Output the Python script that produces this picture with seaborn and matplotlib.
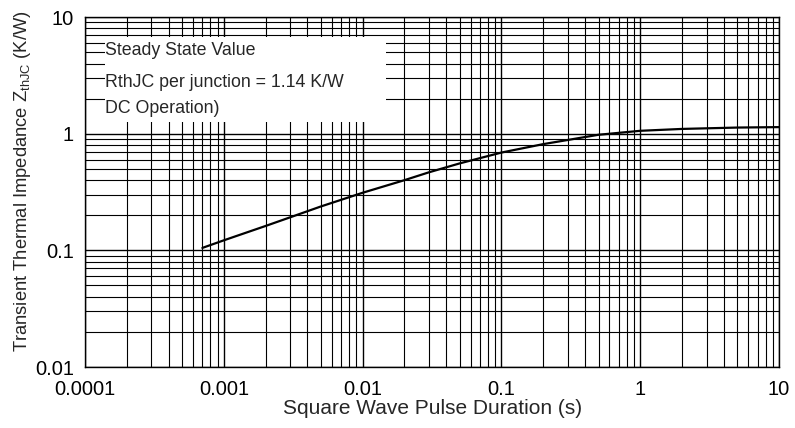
import matplotlib
matplotlib.use("Agg")
import matplotlib.pyplot as plt
from matplotlib.patches import Rectangle
from matplotlib.ticker import FixedLocator, FuncFormatter, LogLocator, NullFormatter
import numpy as np
import pandas as pd
import seaborn as sns

# data
pulse_s = [0.0007, 0.001, 0.002, 0.003, 0.005, 0.01, 0.02, 0.03, 0.05,
           0.1, 0.2, 0.5, 1, 2, 5, 10]
zth = [0.105, 0.122, 0.162, 0.192, 0.238, 0.312, 0.40, 0.467, 0.557,
       0.69, 0.815, 0.98, 1.06, 1.10, 1.13, 1.14]

x_ticks = [0.0001, 0.001, 0.01, 0.1, 1, 10]
y_ticks = [0.01, 0.1, 1, 10]
note_lines = ["Steady State Value", "RthJC per junction = 1.14 K/W", "DC Operation)"]

sns.set_style("white")
plt.rcParams["font.family"] = ["Liberation Sans", "DejaVu Sans"]
plt.rcParams["mathtext.fontset"] = "custom"
plt.rcParams["mathtext.rm"] = "Liberation Sans"
plt.rcParams["mathtext.it"] = "Liberation Sans"

df = pd.DataFrame({"t": pulse_s, "z": zth})

fig = plt.figure(figsize=(7.95, 4.28), dpi=100)
ax = fig.add_axes([0.107, 0.1425, 0.873, 0.8175])

sns.lineplot(data=df, x="t", y="z", color="black", linewidth=1.6, ax=ax, zorder=3)

ax.set_xscale("log")
ax.set_yscale("log")
ax.set_xlim(1e-4, 10)
ax.set_ylim(0.01, 10)

ax.xaxis.set_major_locator(FixedLocator(x_ticks))
ax.yaxis.set_major_locator(FixedLocator(y_ticks))
ax.xaxis.set_minor_locator(LogLocator(base=10, subs=np.arange(2, 10)))
ax.yaxis.set_minor_locator(LogLocator(base=10, subs=np.arange(2, 10)))
fmt = FuncFormatter(lambda v, p: f"{v:g}")
ax.xaxis.set_major_formatter(fmt)
ax.yaxis.set_major_formatter(fmt)
ax.xaxis.set_minor_formatter(NullFormatter())
ax.yaxis.set_minor_formatter(NullFormatter())

ax.set_axisbelow(True)
ax.grid(which="major", color="black", linewidth=1.0)
ax.grid(which="minor", color="black", linewidth=0.8)
ax.tick_params(which="both", length=0, labelsize=14.5, colors="black")
ax.tick_params(axis="x", pad=9)
ax.tick_params(axis="y", pad=8)

for s in ax.spines.values():
    s.set_color("black")
    s.set_linewidth(1.0)

# white note box over the grid
ax.add_patch(Rectangle((0.029, 0.70), 0.405, 0.243, transform=ax.transAxes,
                       facecolor="white", edgecolor="none", zorder=2))
for txt, yy in zip(note_lines, [0.906, 0.814, 0.74]):
    ax.text(0.029, yy, txt, transform=ax.transAxes, fontsize=12.8,
            va="center", ha="left", zorder=4)

ax.set_xlabel("Square Wave Pulse Duration (s)", fontsize=15, labelpad=0)
ax.set_ylabel(r"Transient Thermal Impedance Z$_{\mathrm{thJC}}$ (K/W)",
              fontsize=13.2, labelpad=3)
ax.yaxis.set_label_coords(-0.075, 0.53)

fig.savefig("out.png", dpi=100)
